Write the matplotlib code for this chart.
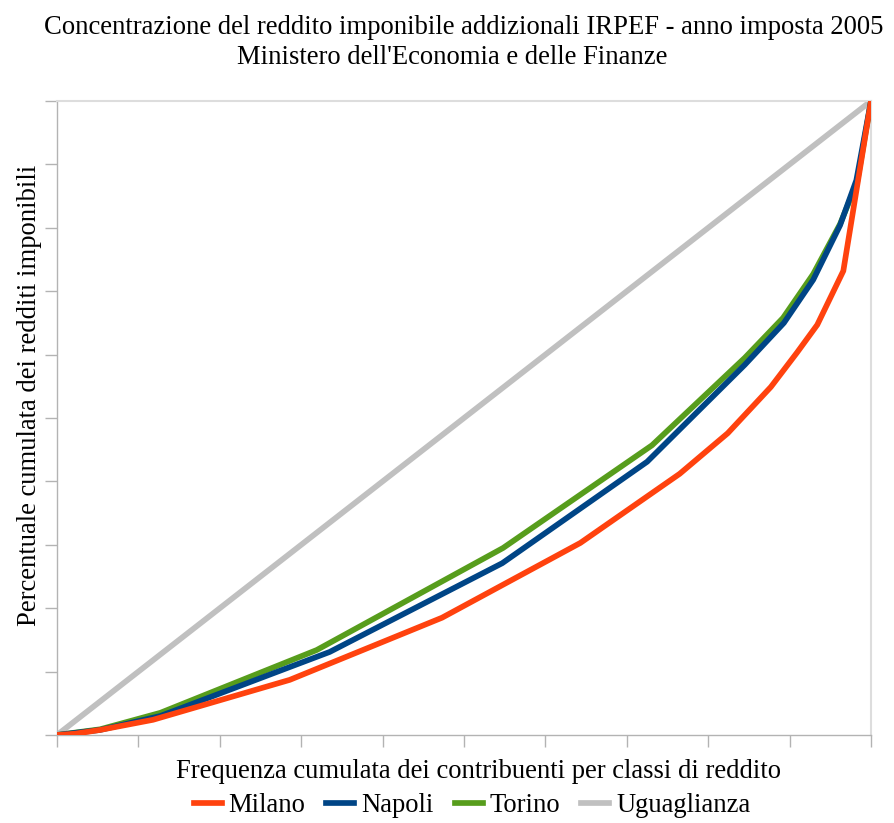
import matplotlib
matplotlib.use("Agg")
import matplotlib.pyplot as plt
from matplotlib.lines import Line2D

plt.rcParams['font.family'] = ['Liberation Serif', 'DejaVu Serif']

title_lines = ["Concentrazione del reddito imponibile addizionali IRPEF - anno imposta 2005",
               "Ministero dell'Economia e delle Finanze"]
xlabel = "Frequenza cumulata dei contribuenti per classi di reddito"
ylabel = "Percentuale cumulata dei redditi imponibili"

series_names = ["Milano", "Napoli", "Torino", "Uguaglianza"]
series_colors = ["#ff420e", "#004586", "#579d1c", "#c0c0c0"]

milano_x = [0, 0.022, 0.053, 0.118, 0.286, 0.473, 0.643, 0.765, 0.824, 0.877, 0.909, 0.934, 0.966, 1.0]
milano_y = [0, 0.002, 0.008, 0.024, 0.087, 0.185, 0.303, 0.412, 0.476, 0.549, 0.603, 0.647, 0.732, 1.0]

napoli_x = [0, 0.053, 0.127, 0.335, 0.547, 0.725, 0.845, 0.893, 0.929, 0.962, 0.982, 1.0]
napoli_y = [0, 0.008, 0.030, 0.131, 0.271, 0.431, 0.584, 0.650, 0.718, 0.804, 0.875, 1.0]

torino_x = [0, 0.053, 0.127, 0.319, 0.548, 0.731, 0.845, 0.892, 0.929, 0.962, 0.983, 1.0]
torino_y = [0, 0.009, 0.035, 0.134, 0.295, 0.457, 0.595, 0.658, 0.727, 0.806, 0.872, 1.0]

ugua_x = [0, 1.0]
ugua_y = [0, 1.0]

FS = 19.2

fig = plt.figure(figsize=(8.94, 8.23), dpi=100)
ax = fig.add_axes([57/894, 1-735/823, (871-57)/894, (735-101)/823])

lw = 4.1
ax.plot(ugua_x, ugua_y, color=series_colors[3], lw=lw, solid_capstyle='butt', zorder=2)
ax.plot(torino_x, torino_y, color=series_colors[2], lw=lw, solid_joinstyle='miter', zorder=3)
ax.plot(napoli_x, napoli_y, color=series_colors[1], lw=lw, solid_joinstyle='miter', zorder=4)
ax.plot(milano_x, milano_y, color=series_colors[0], lw=lw, solid_joinstyle='miter', zorder=5)

ax.set_xlim(0, 1)
ax.set_ylim(0, 1)
ticks = [i / 10 for i in range(11)]
ax.set_xticks(ticks)
ax.set_yticks(ticks)
ax.set_xticklabels([])
ax.set_yticklabels([])
ax.tick_params(axis='both', direction='out', length=8.5, width=1, color='#b3b3b3')
for s in ['left', 'bottom']:
    ax.spines[s].set_color('#b3b3b3')
    ax.spines[s].set_linewidth(1)
for s in ['top', 'right']:
    ax.spines[s].set_color('#dddddd')
    ax.spines[s].set_linewidth(1.5)

fig.text(464/894, 1-27/823, title_lines[0], ha='center', va='center', fontsize=FS, color='#000000')
fig.text(452/894, 1-58/823, title_lines[1], ha='center', va='center', fontsize=FS, color='#000000')
fig.text(478/894, 1-772/823, xlabel, ha='center', va='center', fontsize=FS)
fig.text(30/894, 1-395/823, ylabel, ha='center', va='center', rotation=90, fontsize=FS)

handles = [Line2D([0], [0], color=c, lw=lw) for c in series_colors]
fig.legend(handles, series_names, loc='center', bbox_to_anchor=(472/894, 1-806/823), ncol=4,
           frameon=False, fontsize=FS, handlelength=1.05, handletextpad=0.25, columnspacing=0.8,
           borderpad=0, borderaxespad=0)

fig.savefig("out.png", dpi=100)
